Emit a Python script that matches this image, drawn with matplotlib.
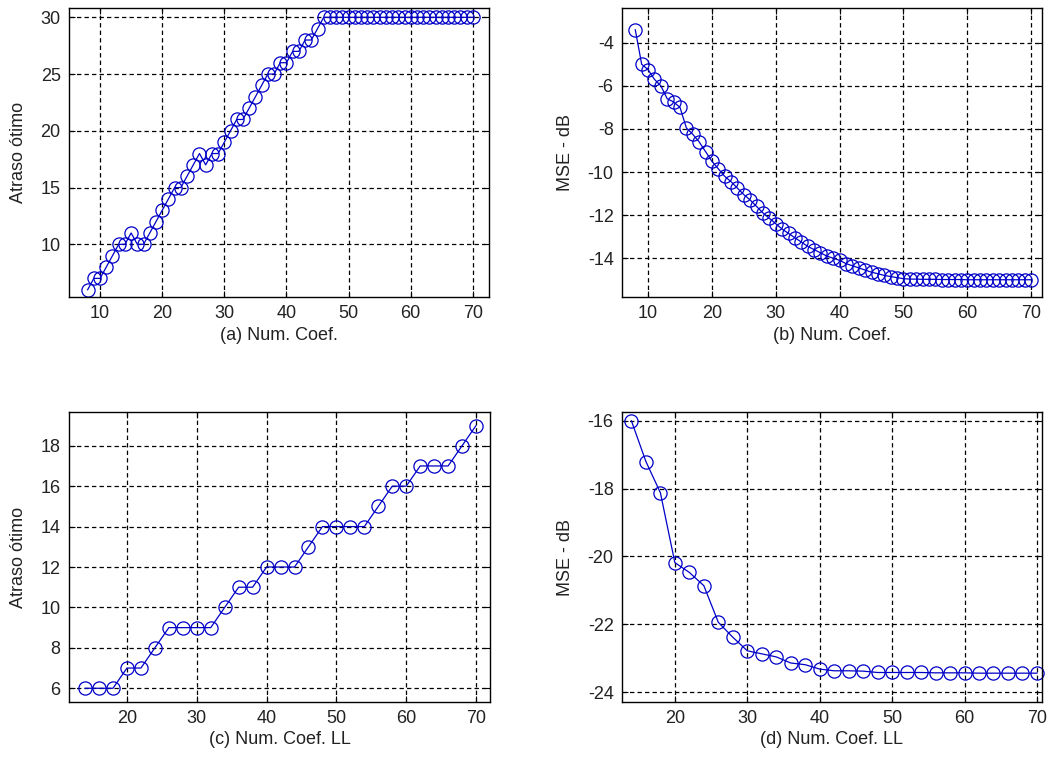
import numpy as np
import matplotlib
matplotlib.use("Agg")
import matplotlib.pyplot as plt

plt.rcParams['font.family'] = ['Liberation Sans', 'DejaVu Sans']
plt.rcParams['axes.unicode_minus'] = False

# (a) atraso otimo x numero de coeficientes
coef_a = list(range(8, 71))
atraso_a = [6, 7, 7, 8, 9, 10, 10, 11, 10, 10, 11, 12, 13, 14, 15, 15, 16, 17, 18, 17,
            18, 18, 19, 20, 21, 21, 22, 23, 24, 25, 25, 26, 26, 27, 27, 28, 28, 29, 30] + [30] * 24

# (b) MSE x numero de coeficientes
coef_b = list(range(8, 71))
mse_b = [-3.4, -5.0, -5.25, -5.7, -6.0, -6.6, -6.75, -7.0, -7.95, -8.25, -8.6, -9.05,
         -9.5, -9.85, -10.2, -10.45, -10.75, -11.05, -11.3, -11.6, -11.9, -12.15, -12.4,
         -12.65, -12.85, -13.05, -13.25, -13.45, -13.6, -13.75, -13.9, -14.0, -14.1,
         -14.25, -14.35, -14.45, -14.55, -14.65, -14.72, -14.8, -14.85, -14.9, -14.95,
         -14.97, -14.97, -14.98, -14.98, -14.98, -14.99, -14.99, -14.99, -14.99, -15.0,
         -15.0, -15.0, -15.0, -15.0, -15.0, -15.0, -15.0, -15.0, -15.0, -15.0]

# (c) atraso otimo x numero de coeficientes LL
coef_c = list(range(14, 71, 2))
atraso_c = [6, 6, 6, 7, 7, 8, 9, 9, 9, 9, 10, 11, 11, 12, 12, 12, 13, 14, 14, 14, 14,
            15, 16, 16, 17, 17, 17, 18, 19]

# (d) MSE x numero de coeficientes LL
coef_d = list(range(14, 71, 2))
mse_d = [-16.0, -17.2, -18.12, -20.18, -20.47, -20.86, -21.94, -22.38, -22.78, -22.87,
         -22.96, -23.14, -23.19, -23.32, -23.37, -23.37, -23.38, -23.42, -23.42, -23.42,
         -23.42, -23.43, -23.43, -23.43, -23.44, -23.44, -23.44, -23.44, -23.44]

W, H = 1049, 760
fig = plt.figure(figsize=(W / 100, H / 100), dpi=100)


def make_axes(left, right, top, bottom):
    return fig.add_axes([left / W, 1 - bottom / H, (right - left) / W, (bottom - top) / H])


def style(ax, xlim, ylim, xticks, yticks, xlabel, ylabel):
    ax.set_xlim(*xlim)
    ax.set_ylim(*ylim)
    ax.set_xticks(xticks)
    ax.set_yticks(yticks)
    ax.grid(True, color='black', linestyle=(0, (3.5, 2.5)), linewidth=0.9)
    ax.tick_params(direction='in', top=True, right=True, length=4, labelsize=13, pad=6,
                   labelcolor='#222222')
    for s in ax.spines.values():
        s.set_linewidth(1.0)
    ax.set_xlabel(xlabel, fontsize=13, labelpad=3, color='#222222')
    ax.set_ylabel(ylabel, fontsize=13, labelpad=10, color='#222222')


def curve(ax, x, y):
    ax.plot(x, y, color='#0000c8', linewidth=0.9, marker='o', markersize=9.5,
            markerfacecolor='none', markeredgecolor='#0000c8', markeredgewidth=0.9,
            clip_on=False)


ax_a = make_axes(69, 489, 8, 297)
curve(ax_a, coef_a, atraso_a)
style(ax_a, (5.0, 72.6), (5.36, 30.82), range(10, 71, 10), range(10, 31, 5),
      '(a) Num. Coef.', 'Atraso ótimo')

ax_b = make_axes(622, 1042, 8, 297)
curve(ax_b, coef_b, mse_b)
style(ax_b, (5.92, 71.7), (-15.8, -2.39), range(10, 71, 10), range(-14, -3, 2),
      '(b) Num. Coef.', 'MSE - dB')

ax_c = make_axes(69, 490, 412, 702)
curve(ax_c, coef_c, atraso_c)
style(ax_c, (11.7, 72.0), (5.32, 19.67), range(20, 71, 10), range(6, 19, 2),
      '(c) Num. Coef. LL', 'Atraso ótimo')

ax_d = make_axes(622, 1042, 412, 702)
curve(ax_d, coef_d, mse_d)
style(ax_d, (12.7, 70.7), (-24.29, -15.74), range(20, 71, 10), range(-24, -15, 2),
      '(d) Num. Coef. LL', 'MSE - dB')

fig.savefig('out.png', dpi=100)
